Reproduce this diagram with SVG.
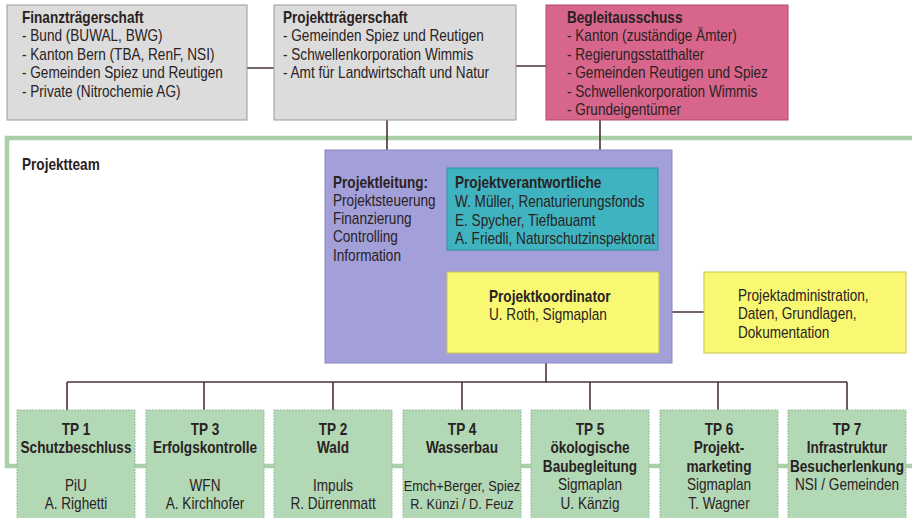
<svg xmlns="http://www.w3.org/2000/svg" width="912" height="518" viewBox="0 0 912 518">
<style>
text{font-family:"Liberation Sans",Arial,sans-serif;font-size:16px;fill:#2a2222;transform-box:fill-box;transform-origin:left center;transform:scaleX(0.85)}
.b{font-weight:bold}
.c{text-anchor:middle;transform-origin:center}
.s{font-size:15px}
.gray{fill:#dcdcdc;stroke:#9a9a9a;stroke-width:1}
.tp{fill:#b2d8b6;stroke:#98b89c;stroke-width:1;stroke-dasharray:2 1}
.ln{stroke:#4a3434;stroke-width:1.6;fill:none}
</style>
<rect width="912" height="518" fill="#ffffff"/>
<g id="frame">
<path d="M914,138 H7 V466 H914" fill="none" stroke="#a9d0a6" stroke-width="4.5"/>
<text x="22" y="170" class="b">Projektteam</text>
</g>
<g id="connectors">
<path class="ln" d="M247,68 H274 M516,66 H546 M387,120 V150 M600,120 V168 M546,250 V272 M659,312 H704 M546,353 V382 M67,382 H847 M67,382 V410 M204,382 V410 M333,382 V410 M462,382 V410 M590,382 V410 M718,382 V410 M847,382 V410"/>
</g>
<g id="finanztraegerschaft">
<rect class="gray" x="7" y="5" width="240" height="115"/>
<text x="22" y="23" class="b">Finanzträgerschaft</text>
<text x="22" y="41">- Bund (BUWAL, BWG)</text>
<text x="22" y="60">- Kanton Bern (TBA, RenF, NSI)</text>
<text x="22" y="78">- Gemeinden Spiez und Reutigen</text>
<text x="22" y="97">- Private (Nitrochemie AG)</text>
</g>
<g id="projekttraegerschaft">
<rect class="gray" x="274" y="5" width="242" height="115"/>
<text x="283" y="23" class="b">Projektträgerschaft</text>
<text x="283" y="41">- Gemeinden Spiez und Reutigen</text>
<text x="283" y="60">- Schwellenkorporation Wimmis</text>
<text x="283" y="78">- Amt für Landwirtschaft und Natur</text>
</g>
<g id="begleitausschuss">
<rect x="546" y="5" width="242" height="115" fill="#d8668c" stroke="#b04a6a" stroke-width="1"/>
<text x="567" y="23" class="b">Begleitausschuss</text>
<text x="567" y="41">- Kanton (zuständige Ämter)</text>
<text x="567" y="60">- Regierungsstatthalter</text>
<text x="567" y="78">- Gemeinden Reutigen und Spiez</text>
<text x="567" y="97">- Schwellenkorporation Wimmis</text>
<text x="567" y="115">- Grundeigentümer</text>
</g>
<g id="projektleitung">
<rect x="325" y="150" width="347" height="213" fill="#a29fd9" stroke="#8a87c0" stroke-width="1"/>
<text x="333" y="188" class="b">Projektleitung:</text>
<text x="333" y="206">Projektsteuerung</text>
<text x="333" y="224">Finanzierung</text>
<text x="333" y="242">Controlling</text>
<text x="333" y="261">Information</text>
</g>
<g id="projektverantwortliche">
<rect x="447" y="168" width="211" height="82" fill="#3fb4c0" stroke="#2f8f9a" stroke-width="1"/>
<text x="455" y="188" class="b">Projektverantwortliche</text>
<text x="455" y="207">W. Müller, Renaturierungsfonds</text>
<text x="455" y="226">E. Spycher, Tiefbauamt</text>
<text x="455" y="244">A. Friedli, Naturschutzinspektorat</text>
</g>
<g id="projektkoordinator">
<rect x="447" y="272" width="212" height="81" fill="#f9f872" stroke="#c8c450" stroke-width="1"/>
<text x="489" y="302" class="b">Projektkoordinator</text>
<text x="489" y="320">U. Roth, Sigmaplan</text>
</g>
<g id="projektadministration">
<rect x="704" y="272" width="202" height="81" fill="#f9f872" stroke="#c8c450" stroke-width="1"/>
<text x="738" y="301">Projektadministration,</text>
<text x="738" y="319">Daten, Grundlagen,</text>
<text x="738" y="338">Dokumentation</text>
</g>
<g id="tp1">
<rect class="tp" x="17" y="410" width="118" height="112"/>
<text x="76" y="435" class="b c">TP 1</text>
<text x="76" y="453" class="b c">Schutzbeschluss</text>
<text x="76" y="491" class="c">PiU</text>
<text x="76" y="509" class="c">A. Righetti</text>
</g>
<g id="tp3">
<rect class="tp" x="146" y="410" width="118" height="112"/>
<text x="205" y="435" class="b c">TP 3</text>
<text x="205" y="453" class="b c">Erfolgskontrolle</text>
<text x="205" y="491" class="c">WFN</text>
<text x="205" y="509" class="c">A. Kirchhofer</text>
</g>
<g id="tp2">
<rect class="tp" x="274" y="410" width="118" height="112"/>
<text x="333" y="435" class="b c">TP 2</text>
<text x="333" y="453" class="b c">Wald</text>
<text x="333" y="491" class="c">Impuls</text>
<text x="333" y="509" class="c">R. Dürrenmatt</text>
</g>
<g id="tp4">
<rect class="tp" x="403" y="410" width="118" height="112"/>
<text x="462" y="435" class="b c">TP 4</text>
<text x="462" y="453" class="b c">Wasserbau</text>
<text x="462" y="491" class="c s">Emch+Berger, Spiez</text>
<text x="462" y="509" class="c s">R. Künzi / D. Feuz</text>
</g>
<g id="tp5">
<rect class="tp" x="531" y="410" width="118" height="112"/>
<text x="590" y="435" class="b c">TP 5</text>
<text x="590" y="453" class="b c">ökologische</text>
<text x="590" y="472" class="b c">Baubegleitung</text>
<text x="590" y="490" class="c">Sigmaplan</text>
<text x="590" y="509" class="c">U. Känzig</text>
</g>
<g id="tp6">
<rect class="tp" x="660" y="410" width="118" height="112"/>
<text x="719" y="435" class="b c">TP 6</text>
<text x="719" y="453" class="b c">Projekt-</text>
<text x="719" y="472" class="b c">marketing</text>
<text x="719" y="490" class="c">Sigmaplan</text>
<text x="719" y="509" class="c">T. Wagner</text>
</g>
<g id="tp7">
<rect class="tp" x="788" y="410" width="118" height="112"/>
<text x="847" y="435" class="b c">TP 7</text>
<text x="847" y="453" class="b c">Infrastruktur</text>
<text x="847" y="472" class="b c">Besucherlenkung</text>
<text x="847" y="490" class="c">NSI / Gemeinden</text>
</g>
</svg>
